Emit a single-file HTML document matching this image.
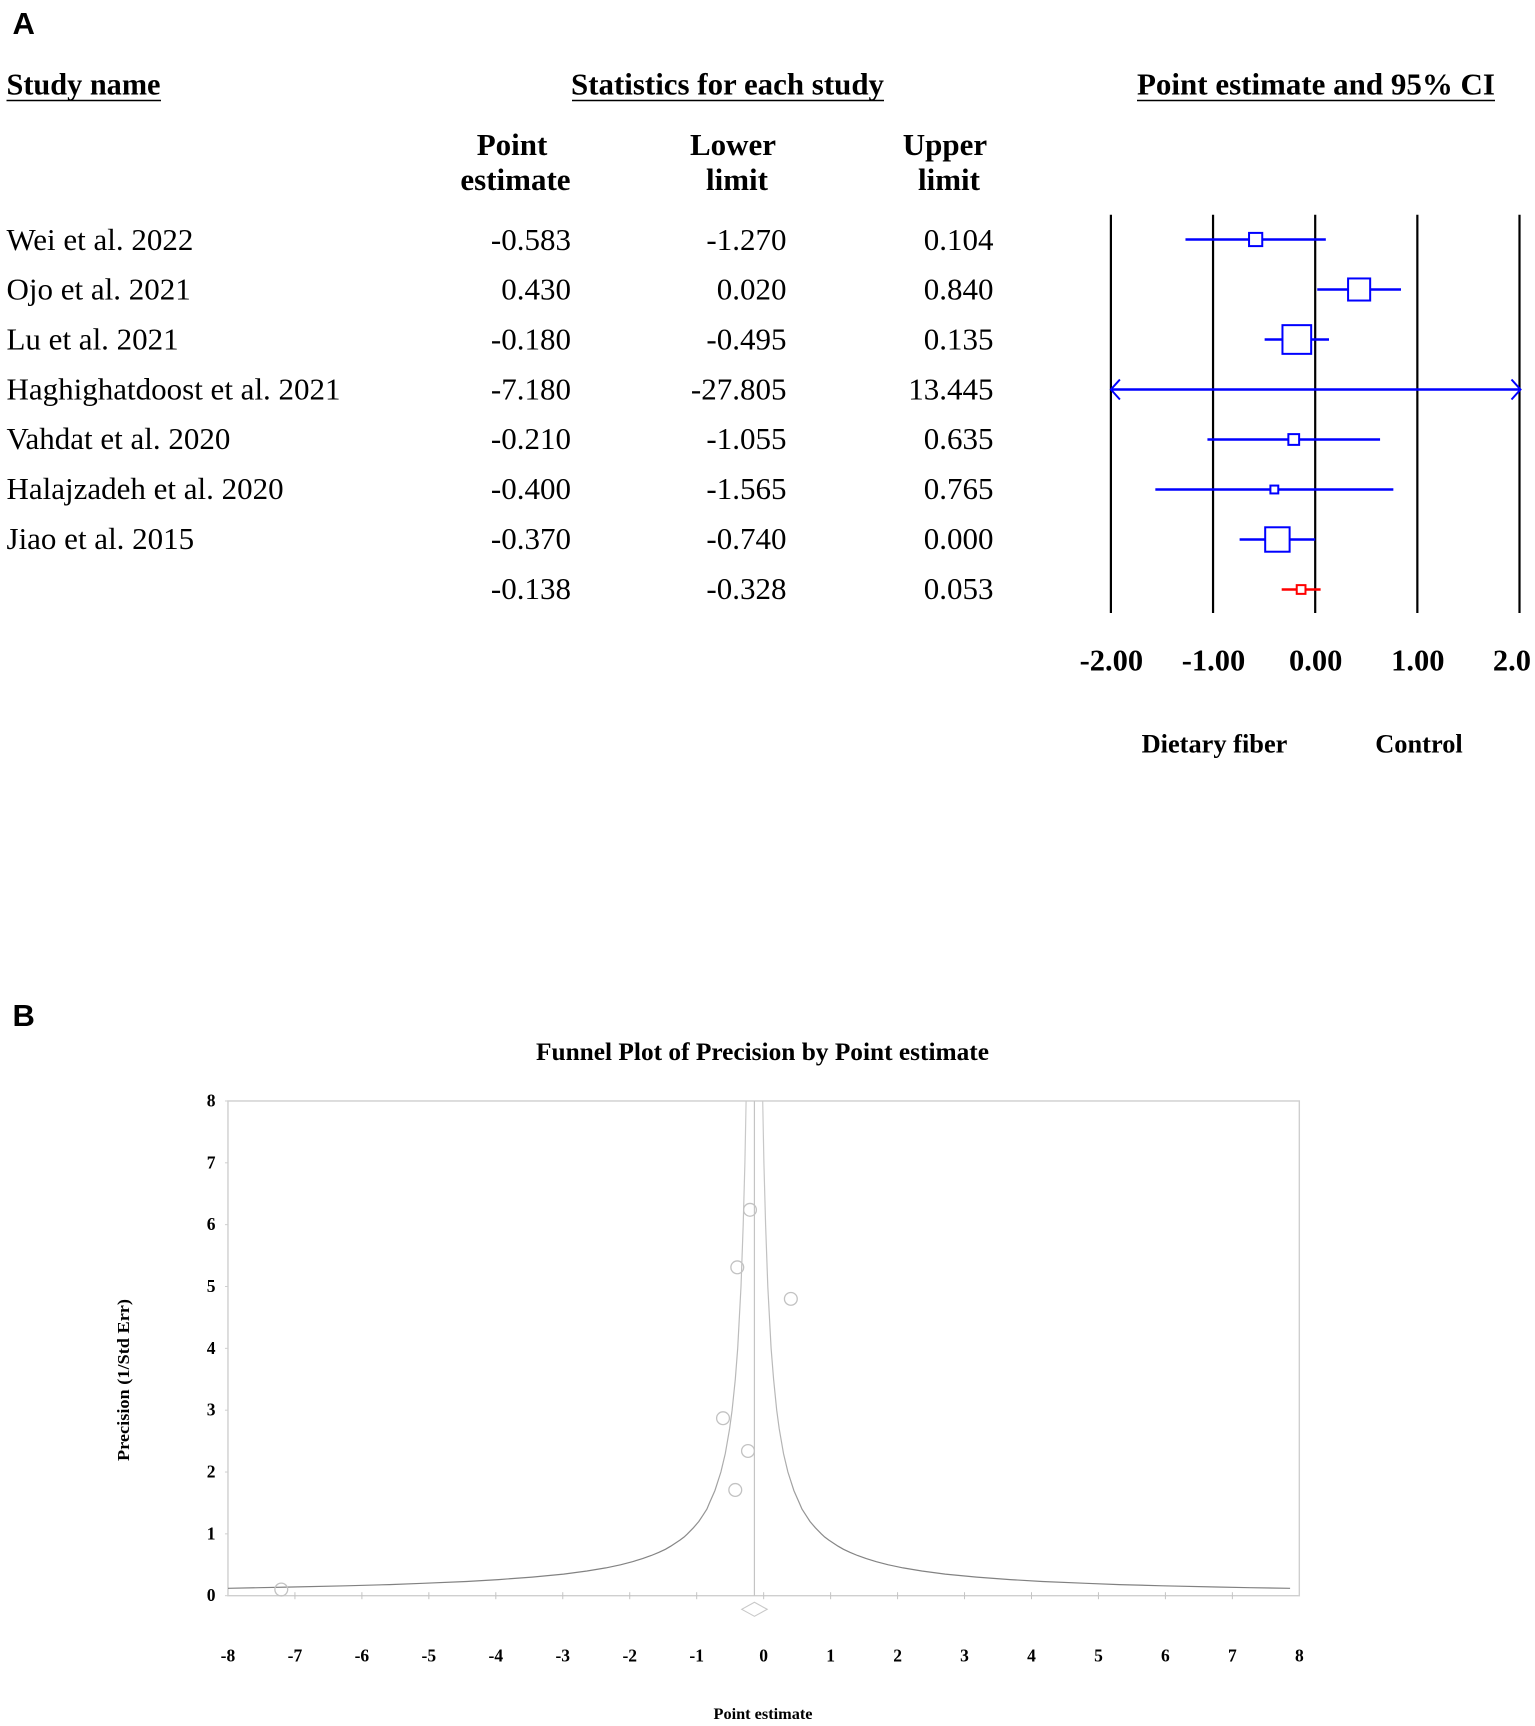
<!DOCTYPE html>
<html lang="en">
<head>
<meta charset="utf-8">
<title>Forest and funnel plots</title>
<style>
html,body{margin:0;padding:0;background:#fff;width:1535px;height:1726px;overflow:hidden}
svg{display:block;font-family:"Liberation Serif",serif}
.panel-letter{font-family:"Liberation Sans",sans-serif;font-weight:bold;font-size:31px;fill:#000}
.hdr{font-weight:bold;font-size:31px;fill:#000}
</style>
</head>
<body>
<svg id="fig" xmlns="http://www.w3.org/2000/svg" width="1535" height="1726" viewBox="0 0 1535 1726">
  <defs>
    <clipPath id="right-clip"><rect x="0" y="0" width="1530" height="1726"/></clipPath>
    <linearGradient id="bound-stroke" gradientUnits="userSpaceOnUse" x1="0" y1="1101" x2="0" y2="1596">
      <stop offset="0" stop-color="#cbcbcb"/>
      <stop offset="0.7" stop-color="#b4b4b4"/>
      <stop offset="0.9" stop-color="#848484"/>
      <stop offset="1" stop-color="#808080"/>
    </linearGradient>
  </defs>
  <rect width="1535" height="1726" fill="#fff"/>
  <text class="panel-letter" x="12.5" y="34">A</text>
  <text class="hdr" x="6.5" y="94.5" textLength="154" lengthAdjust="spacingAndGlyphs">Study name</text>
  <line x1="6.5" x2="161" y1="100.5" y2="100.5" stroke="#000" stroke-width="1.6"/>
  <text class="hdr" x="571" y="94.5" textLength="313" lengthAdjust="spacingAndGlyphs">Statistics for each study</text>
  <line x1="572" x2="884" y1="100.5" y2="100.5" stroke="#000" stroke-width="1.6"/>
  <text class="hdr" x="1137" y="94.5" textLength="358" lengthAdjust="spacingAndGlyphs">Point estimate and 95% CI</text>
  <line x1="1137" x2="1495" y1="100.5" y2="100.5" stroke="#000" stroke-width="1.6"/>
  <text class="hdr" x="512" y="155" text-anchor="middle">Point</text>
  <text class="hdr" x="515.5" y="190" text-anchor="middle">estimate</text>
  <text class="hdr" x="733" y="155" text-anchor="middle">Lower</text>
  <text class="hdr" x="737" y="190" text-anchor="middle">limit</text>
  <text class="hdr" x="945" y="155" text-anchor="middle">Upper</text>
  <text class="hdr" x="949" y="190" text-anchor="middle">limit</text>
  <g id="table"></g>
  <g id="forest"></g>
  <text x="1214.5" y="752.5" text-anchor="middle" font-weight="bold" font-size="26.4">Dietary fiber</text>
  <text x="1419" y="752.5" text-anchor="middle" font-weight="bold" font-size="26.4">Control</text>

  <text class="panel-letter" x="12.5" y="1026">B</text>
  <text x="536" y="1060" font-weight="bold" font-size="25" textLength="453" lengthAdjust="spacingAndGlyphs">Funnel Plot of Precision by Point estimate</text>
  <g id="funnel"></g>
  <text transform="translate(129,1380) rotate(-90)" text-anchor="middle" font-weight="bold" font-size="16.5" textLength="162" lengthAdjust="spacingAndGlyphs">Precision (1/Std Err)</text>
  <text x="763" y="1719" text-anchor="middle" font-weight="bold" font-size="16.3" textLength="99" lengthAdjust="spacingAndGlyphs">Point estimate</text>
</svg>
<script>
const studyNames = ["Wei et al. 2022","Ojo et al. 2021","Lu et al. 2021","Haghighatdoost et al. 2021","Vahdat et al. 2020","Halajzadeh et al. 2020","Jiao et al. 2015",""];
const pointEstimates = [-0.583,0.430,-0.180,-7.180,-0.210,-0.400,-0.370,-0.138];
const lowerLimits = [-1.270,0.020,-0.495,-27.805,-1.055,-1.565,-0.740,-0.328];
const upperLimits = [0.104,0.840,0.135,13.445,0.635,0.765,0.000,0.053];
const forestTicks = [-2,-1,0,1,2];
const precisionValues = [2.87,4.80,6.24,0.10,2.34,1.71,5.31];
const summaryPrecision = 1.9;
const funnelX = [-8,-7,-6,-5,-4,-3,-2,-1,0,1,2,3,4,5,6,7,8];
const funnelY = [0,1,2,3,4,5,6,7,8];
const boundPrecision = [0.12,0.13,0.14,0.16,0.18,0.2,0.23,0.26,0.3,0.35,0.4,0.45,0.5,0.55,0.6,0.65,0.7,0.75,0.8,0.85,0.9,0.95,1,1.1,1.2,1.3,1.4,1.5,1.7,2,2.3,2.7,3,3.5,4,5,6,7,8];
const boundHalfWidth = [8.0,7.4,6.9,6.1,5.45,4.95,4.3,3.82,3.32,2.85,2.5,2.22,2.0,1.82,1.67,1.54,1.43,1.33,1.25,1.18,1.11,1.05,1.0,0.91,0.83,0.77,0.71,0.67,0.59,0.5,0.435,0.37,0.333,0.286,0.25,0.2,0.167,0.142,0.124];

const NS = "http://www.w3.org/2000/svg";
function mk(parent, tag, props) {
  const e = document.createElementNS(NS, tag);
  for (const k in props) e.setAttribute(k, props[k]);
  parent.appendChild(e);
  return e;
}

/* axis functions */
const forestXScale = v => 1315.2 + 102.15 * v;
const rowY = i => 239.5 + 50 * i;
const tableRowY = i => 249.8 + 49.85 * i;
const funnelXScale = v => 763.65 + 66.96 * v;
const funnelYScale = v => 1595.7 - 61.84 * v;

/* statistics table */
const table = document.getElementById("table");
studyNames.forEach((name, i) => {
  const y = tableRowY(i);
  if (name) {
    const nameText = mk(table, "text", {x: 6.5, y: y, "font-size": 31});
    
    
    nameText.textContent = name;
  }
  const cols = [[571, pointEstimates[i]], [786.5, lowerLimits[i]], [993.5, upperLimits[i]]];
  cols.forEach(c => {
    const t = mk(table, "text", {x: c[0], y: y, "font-size": 31, "text-anchor": "end"});
    
    
    t.textContent = c[1].toFixed(3);
  });
});

/* forest plot */
const forest = document.getElementById("forest");
const fMin = forestTicks[0], fMax = forestTicks[forestTicks.length - 1];
forestTicks.forEach(v => {
  const x = forestXScale(v);
  const l = mk(forest, "line", {x1: x, x2: x, y1: 214.7, y2: 613, stroke: "#000", "stroke-width": 2.2});
  
  
  const t = mk(forest, "text", {x: x + (v === fMax ? 0 : 0.5), y: 670.5, "text-anchor": "middle", "font-size": 30.5, "font-weight": "bold", "clip-path": "url(#right-clip)"});
  
  
  t.textContent = v.toFixed(2);
});
pointEstimates.forEach((p, i) => {
  const isSummary = i === pointEstimates.length - 1;
  const color = isSummary ? "#ff0000" : "#0000ff";
  const y = rowY(i);
  const lo = Math.max(lowerLimits[i], fMin), hi = Math.min(upperLimits[i], fMax);
  const x1 = forestXScale(lo), x2 = forestXScale(hi) + (upperLimits[i] > fMax ? 1 : 0);
  const ci = mk(forest, "line", {x1: x1, x2: x2, y1: y, y2: y, stroke: color, "stroke-width": 2.4});
  
  
  if (lowerLimits[i] < fMin) {
    const a = mk(forest, "polyline", {points: `${x1+9},${y-10} ${x1},${y} ${x1+9},${y+10}`, fill: "none", stroke: color, "stroke-width": 2});
    
    
  }
  if (upperLimits[i] > fMax) {
    const a = mk(forest, "polyline", {points: `${x2-9},${y-10} ${x2},${y} ${x2-9},${y+10}`, fill: "none", stroke: color, "stroke-width": 2});
    
    
  }
  if (p >= fMin && p <= fMax) {
    const size = 4.6 * (isSummary ? summaryPrecision : precisionValues[i]);
    const box = mk(forest, "rect", {x: forestXScale(p) - size / 2, y: y - size / 2, width: size, height: size, fill: "#fff", stroke: color, "stroke-width": 2});
    
    
  }
});

/* funnel plot */
const funnel = document.getElementById("funnel");
const axisColor = "#cfcfcf";
const L = funnelXScale(funnelX[0]), R = funnelXScale(funnelX[funnelX.length - 1]);
const T = funnelYScale(funnelY[funnelY.length - 1]), B = funnelYScale(funnelY[0]);
const frame = mk(funnel, "rect", {x: L, y: T, width: R - L, height: B - T, fill: "#fff", stroke: axisColor, "stroke-width": 1.4});


funnelX.forEach(v => {
  const x = funnelXScale(v);
  if (v > funnelX[0] && v < funnelX[funnelX.length - 1]) {
    const tk = mk(funnel, "line", {x1: x, x2: x, y1: B - 3.5, y2: B + 3.5, stroke: "#c4c4c4", "stroke-width": 1});
    
    
  }
  const t = mk(funnel, "text", {x: x, y: 1661.5, "text-anchor": "middle", "font-size": 17.5, "font-weight": "bold"});
  
  
  t.textContent = v;
});
funnelY.forEach(v => {
  const y = funnelYScale(v);
  const tk = mk(funnel, "line", {x1: L - 3, x2: L, y1: y, y2: y, stroke: axisColor, "stroke-width": 1});
  
  
  const t = mk(funnel, "text", {x: 215.5, y: y + 5.5, "text-anchor": "end", "font-size": 17.5, "font-weight": "bold"});
  
  
  t.textContent = v;
});
const center = pointEstimates[pointEstimates.length - 1];
const cx = funnelXScale(center);
const centerLine = mk(funnel, "line", {x1: cx, x2: cx, y1: T, y2: B, stroke: "#c4c4c4", "stroke-width": 1.2});


function boundPath(sign) {
  const pts = [];
  boundPrecision.forEach((p, i) => {
    const x = Math.max(L, funnelXScale(center + sign * boundHalfWidth[i]));
    pts.push(x.toFixed(1) + "," + funnelYScale(p).toFixed(1));
  });
  return pts.join(" ");
}
const leftBound = mk(funnel, "polyline", {points: boundPath(-1), fill: "none", stroke: "url(#bound-stroke)", "stroke-width": 1.2});


const rightBound = mk(funnel, "polyline", {points: boundPath(1), fill: "none", stroke: "url(#bound-stroke)", "stroke-width": 1.2});


precisionValues.forEach((p, i) => {
  const c = mk(funnel, "circle", {cx: funnelXScale(pointEstimates[i]) - 1.6, cy: funnelYScale(p), r: 6.4, fill: "none", stroke: "#c2c2c2", "stroke-width": 1.3});
  
  
});
const dLo = funnelXScale(lowerLimits[lowerLimits.length - 1]);
const dHi = funnelXScale(upperLimits[upperLimits.length - 1]);
const dMid = (dLo + dHi) / 2;
const diamond = mk(funnel, "polygon", {points: `${dLo},1609.3 ${dMid},1602.3 ${dHi},1609.3 ${dMid},1616.3`, fill: "#fff", stroke: "#c8c8c8", "stroke-width": 1.1});


</script>
</body>
</html>
